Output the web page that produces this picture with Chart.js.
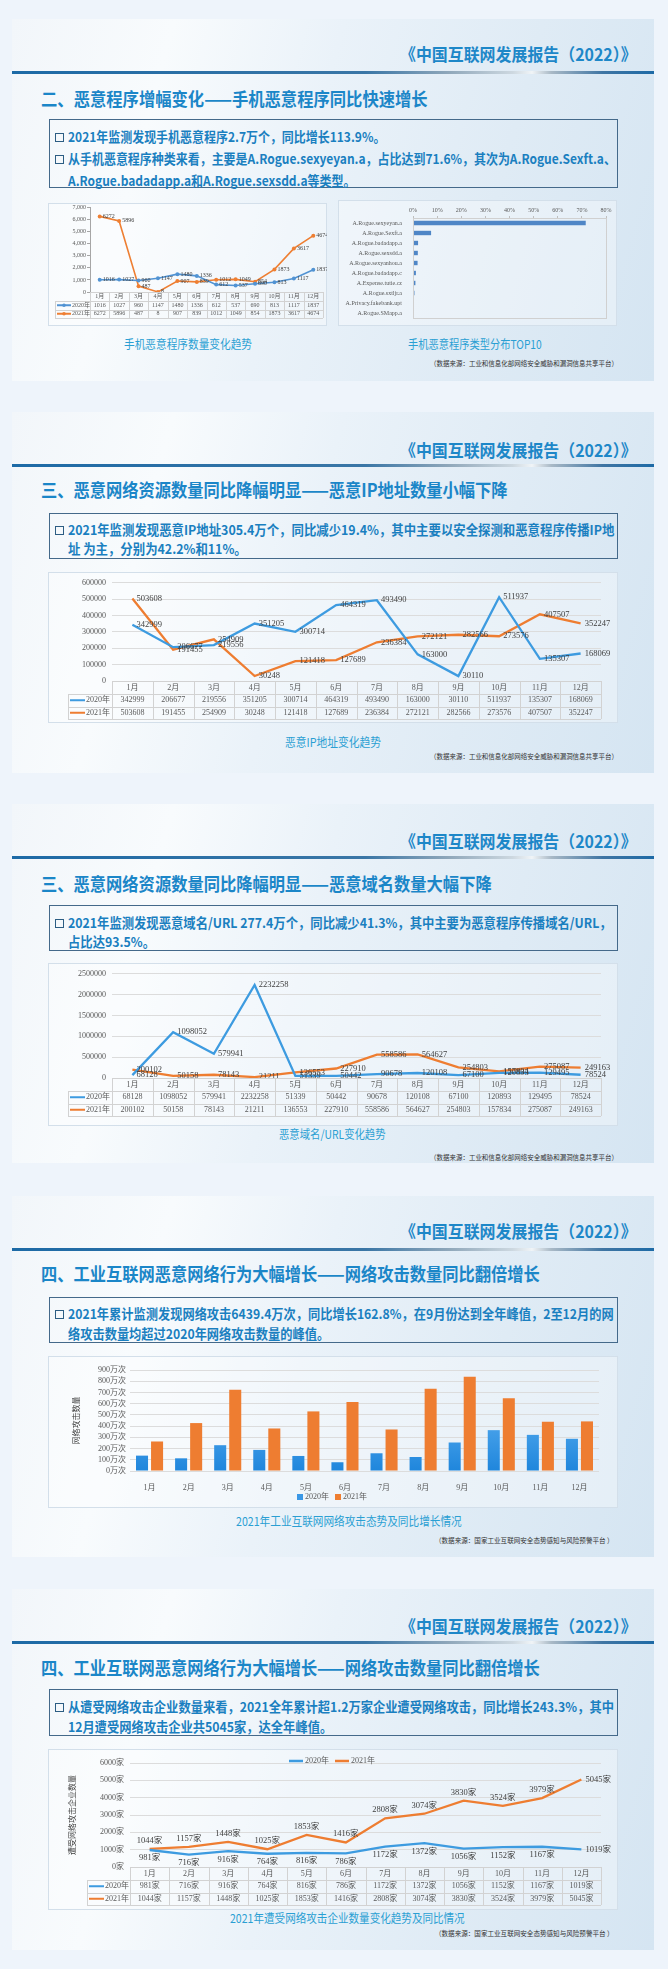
<!DOCTYPE html>
<html>
<head>
<meta charset="utf-8">
<script src="https://cdn.jsdelivr.net/npm/chart.js@4.4.1/dist/chart.umd.min.js"></script>
<style>
  body { margin: 0; width: 668px; height: 1969px; position: relative; overflow: hidden;
         background: #eef4fb; font-family: "Noto Sans CJK SC", sans-serif; }
  .card { position: absolute; left: 12px; width: 642px;
          background: linear-gradient(105deg, #f2f6fa 0%, #f8fbfd 22%, #eaf2f9 45%, #dfebf5 72%, #d5e5f2 100%); }
  .rule { position: absolute; left: 12px; width: 642px; height: 3px;
          background: linear-gradient(90deg, #1d6aa6 0%, #3a76a6 55%, #8fa7ba 68%, #cdd8e0 78%, #f0f4f7 81%, #a9b9c6 84%, #3f75a3 92%, #1d6aa6 100%); }
  .tbox { position: absolute; left: 49px; width: 569px; border: 1.5px solid #44698a; box-sizing: border-box; }
  .cbox { position: absolute; background: rgba(255,255,255,.35); border: 1px solid #d3dfea; box-sizing: border-box; }
  .bul { position: absolute; left: 55px; width: 9px; height: 9px; border: 1.7px solid #2c5d83; box-sizing: border-box; }
  .t { position: absolute; white-space: nowrap; line-height: 1; transform-origin: 0 50%; }
  .hd { font-size: 17px; font-weight: 700; color: #1d87c8; }
  .ti { font-size: 18px; font-weight: 700; color: #1b86c8; }
  .ln { font-size: 13.5px; font-weight: 700; color: #1a7fc0; }
  .cap { font-size: 12px; color: #2a9fd3; }
  .src { font-size: 7px; color: #333; }
  canvas { position: absolute; }
</style>
</head>
<body>
<script>
// ---- data ----
const months = ['1月', '2月', '3月', '4月', '5月', '6月', '7月', '8月', '9月', '10月', '11月', '12月']

const malware2020 = [1016, 1027, 960, 1147, 1480, 1336, 612, 537, 690, 813, 1117, 1837]
const malware2021 = [6272, 5896, 487, 8, 907, 839, 1012, 1049, 854, 1873, 3617, 4674]

const malwareTypes = ['A.Rogue.sexyeyan.a', 'A.Rogue.Sexft.a', 'A.Rogue.badadapp.a', 'A.Rogue.sexsdd.a',
  'A.Rogue.sexyanhou.a', 'A.Rogue.badadapp.c', 'A.Expense.tutie.cz', 'A.Rogue.sxtljr.a',
  'A.Privacy.fakebank.upt', 'A.Rogue.SMapp.a']
const malwareShare = [71.6, 7.5, 2.1, 2.0, 1.9, 1.2, 1.0, 0.6, 0.4, 0.2]

const ip2020 = [342999, 206677, 219556, 351205, 300714, 464319, 493490, 163000, 30110, 511937, 135307, 168069]
const ip2021 = [503608, 191455, 254909, 30248, 121418, 127689, 236384, 272121, 282566, 273576, 407507, 352247]

const url2020 = [68128, 1098052, 579941, 2232258, 51339, 50442, 90678, 120108, 67100, 120893, 129495, 78524]
const url2021 = [200102, 50158, 78143, 21211, 136553, 227910, 558586, 564627, 254803, 157834, 275087, 249163]

const attack2020 = [137, 113, 230, 188, 134, 78, 158, 125, 254, 364, 322, 287]
const attack2021 = [263, 427, 725, 379, 531, 615, 370, 734, 839, 648, 439, 442]

const firms2020 = [981, 716, 916, 764, 816, 786, 1172, 1372, 1056, 1152, 1167, 1019]
const firms2021 = [1044, 1157, 1448, 1025, 1853, 1416, 2808, 3074, 3830, 3524, 3979, 5045]

const seriesNames = ['2020年', '2021年']

// ---- page layout ----
const reportName = '《中国互联网发展报告（2022）》'
const srcA = '（数据来源：工业和信息化部网络安全威胁和漏洞信息共享平台）'
const srcB = '（数据来源：国家工业互联网安全态势感知与风险预警平台 ）'

const panels = [
  { card: [19, 381], header: 53, rule: 72, title: [98, 387, '二、恶意程序增幅变化——手机恶意程序同比快速增长'], box: [119, 188],
    lines: [
      { y: 137, b: 1, t: '2021年监测发现手机恶意程序2.7万个，同比增长113.9%。' },
      { y: 159, b: 1, fit: 548, t: '从手机恶意程序种类来看，主要是A.Rogue.sexyeyan.a，占比达到71.6%，其次为A.Rogue.Sexft.a、' },
      { y: 181, t: 'A.Rogue.badadapp.a和A.Rogue.sexsdd.a等类型。' }
    ],
    charts: [[48, 203, 279, 123], [338, 200, 279, 126]],
    caps: [[188, 344, 128, '手机恶意程序数量变化趋势'], [475, 344, 134, '手机恶意程序类型分布TOP10']],
    src: [618, 363, 188, srcA] },
  { card: [412, 773], header: 449, rule: 465, title: [489, 467, '三、恶意网络资源数量同比降幅明显——恶意IP地址数量小幅下降'], box: [513, 559],
    lines: [
      { y: 530, b: 1, fit: 546, t: '2021年监测发现恶意IP地址305.4万个，同比减少19.4%，其中主要以安全探测和恶意程序传播IP地' },
      { y: 549, t: '址 为主，分别为42.2%和11%。' }
    ],
    charts: [[48, 572, 570, 151]],
    caps: [[333, 742, 96, '恶意IP地址变化趋势']],
    src: [618, 756, 188, srcA] },
  { card: [804, 1163], header: 840, rule: 857, title: [883, 451, '三、恶意网络资源数量同比降幅明显——恶意域名数量大幅下降'], box: [905, 951],
    lines: [
      { y: 923, b: 1, fit: 544, t: '2021年监测发现恶意域名/URL 277.4万个，同比减少41.3%，其中主要为恶意程序传播域名/URL，' },
      { y: 942, t: '占比达93.5%。' }
    ],
    charts: [[48, 963, 570, 163]],
    caps: [[332, 1134, 107, '恶意域名/URL变化趋势']],
    src: [618, 1157, 188, srcA] },
  { card: [1196, 1557], header: 1230, rule: 1249, title: [1273, 499, '四、工业互联网恶意网络行为大幅增长——网络攻击数量同比翻倍增长'], box: [1297, 1343],
    lines: [
      { y: 1314, b: 1, fit: 546, t: '2021年累计监测发现网络攻击6439.4万次，同比增长162.8%，在9月份达到全年峰值，2至12月的网' },
      { y: 1334, t: '络攻击数量均超过2020年网络攻击数量的峰值。' }
    ],
    charts: [[48, 1356, 570, 152]],
    caps: [[349, 1521, 226, '2021年工业互联网网络攻击态势及同比增长情况']],
    src: [614, 1540, 179, srcB] },
  { card: [1589, 1950], header: 1625, rule: 1642, title: [1667, 499, '四、工业互联网恶意网络行为大幅增长——网络攻击数量同比翻倍增长'], box: [1689, 1736],
    lines: [
      { y: 1707, b: 1, fit: 546, t: '从遭受网络攻击企业数量来看，2021全年累计超1.2万家企业遭受网络攻击，同比增长243.3%，其中' },
      { y: 1727, t: '12月遭受网络攻击企业共5045家，达全年峰值。' }
    ],
    charts: [[48, 1749, 570, 161]],
    caps: [[347, 1918, 235, '2021年遭受网络攻击企业数量变化趋势及同比情况']],
    src: [614, 1933, 179, srcB] }
]

const box = (cls, x, y, w, h) => {
  const el = document.createElement('div')
  el.className = cls
  el.style.top = y + 'px'
  if (x !== null) el.style.left = x + 'px'
  if (w !== null) el.style.width = w + 'px'
  el.style.height = h + 'px'
  document.body.appendChild(el)
  return el
}

// text placed by its vertical centre, squeezed to a width (w) or by a given factor (k)
const put = (cls, text, x, y, w, align, k) => {
  const el = document.createElement('div')
  el.className = 't ' + cls
  el.textContent = text
  document.body.appendChild(el)
  const w0 = el.offsetWidth
  const s = k || (w ? w / w0 : 1)
  const W = w0 * s
  let left = x
  if (align === 'center') left = x - W / 2
  if (align === 'right') left = x - W
  el.style.left = left + 'px'
  el.style.top = (y - el.offsetHeight / 2) + 'px'
  el.style.transform = 'scaleX(' + s + ')'
  return s
}

const canvases = []
panels.forEach(p => {
  box('card', null, p.card[0], null, p.card[1] - p.card[0])
  box('rule', null, p.rule - 1.5, null, 3)
  box('tbox', null, p.box[0], null, p.box[1] - p.box[0])
  p.charts.forEach(c => box('cbox', c[0], c[1], c[2], c[3]))
})
panels.forEach(p => {
  put('hd', reportName, 637, p.header, 237, 'right')
  put('ti', p.title[2], 41, p.title[0], p.title[1])
  const fitLine = p.lines.find(l => l.fit)
  const k = put('ln', fitLine.t, 68, fitLine.y, fitLine.fit)
  p.lines.forEach(l => {
    if (l.b) box('bul', null, l.y - 4.5, null, 9)
    if (l !== fitLine) put('ln', l.t, 68, l.y, null, null, k)
  })
  p.caps.forEach(c => put('cap', c[3], c[0], c[1], c[2], 'center'))
  put('src', p.src[3], p.src[0], p.src[1], p.src[2], 'right')
  p.charts.forEach(c => {
    const cv = document.createElement('canvas')
    cv.width = c[2]
    cv.height = c[3]
    cv.style.left = c[0] + 'px'
    cv.style.top = c[1] + 'px'
    document.body.appendChild(cv)
    canvases.push(cv)
  })
})

// ---- chart helpers ----
const serif = "'Liberation Serif', 'Noto Sans CJK SC', serif"
Chart.defaults.font.family = serif
Chart.defaults.color = '#595959'
Chart.defaults.animation = false
Chart.defaults.responsive = false
Chart.defaults.plugins.legend.display = false
Chart.defaults.plugins.tooltip.enabled = false

const BLUE = '#3d9be0'
const ORANGE = '#ee7d31'

// data table under the x axis (months row + one row per dataset)
const tablePlugin = cfg => ({
  id: 'dataTable',
  afterDraw(chart) {
    const ctx = chart.ctx, xs = chart.scales.x, a = chart.chartArea
    const sets = chart.data.datasets
    const n = chart.data.labels.length, cw = (xs.right - xs.left) / n
    const top = a.bottom, r0 = top + cfg.h0, bottom = r0 + cfg.h1 * sets.length
    ctx.save()
    ctx.strokeStyle = '#d2d2d2'
    ctx.lineWidth = 1
    ctx.beginPath()
    for (let k = 0; k <= n; k++) {
      const x = Math.round(xs.left + k * cw) + 0.5
      ctx.moveTo(x, top); ctx.lineTo(x, bottom)
    }
    ctx.moveTo(xs.left, Math.round(top) + 0.5); ctx.lineTo(xs.right, Math.round(top) + 0.5)
    for (let r = 0; r <= sets.length; r++) {
      const y = Math.round(r0 + r * cfg.h1) + 0.5
      ctx.moveTo(cfg.legendLeft, y); ctx.lineTo(xs.right, y)
    }
    ctx.moveTo(cfg.legendLeft + 0.5, r0); ctx.lineTo(cfg.legendLeft + 0.5, bottom)
    ctx.stroke()

    ctx.font = cfg.font + 'px ' + serif
    ctx.fillStyle = '#595959'
    ctx.textAlign = 'center'
    ctx.textBaseline = 'middle'
    chart.data.labels.forEach((l, i) => ctx.fillText(l, xs.getPixelForValue(i), top + cfg.h0 / 2))
    sets.forEach((d, r) => {
      const y = r0 + (r + 0.5) * cfg.h1
      ctx.textAlign = 'center'
      ctx.fillStyle = '#595959'
      d.data.forEach((v, i) => ctx.fillText(v + (cfg.suffix || ''), xs.getPixelForValue(i), y))
      const x0 = cfg.legendLeft + 2
      ctx.strokeStyle = d.borderColor
      ctx.lineWidth = 2
      ctx.beginPath(); ctx.moveTo(x0, y); ctx.lineTo(x0 + cfg.sample, y); ctx.stroke()
      if (cfg.marker) {
        ctx.fillStyle = d.borderColor
        ctx.beginPath(); ctx.arc(x0 + cfg.sample / 2, y, 1.8, 0, Math.PI * 2); ctx.fill()
      }
      ctx.fillStyle = '#595959'
      ctx.textAlign = 'left'
      ctx.fillText(d.label, x0 + cfg.sample + 1, y)
    })
    ctx.restore()
  }
})

// value labels next to the points
const labelPlugin = cfg => ({
  id: 'valueLabels',
  afterDatasetsDraw(chart) {
    const ctx = chart.ctx
    ctx.save()
    ctx.font = cfg.font + 'px ' + serif
    ctx.fillStyle = '#404040'
    chart.data.datasets.forEach((d, di) => {
      const pts = chart.getDatasetMeta(di).data
      pts.forEach((pt, i) => {
        let mode = cfg.modes[di]
        if (cfg.lastRight && i === pts.length - 1) mode = 'right'
        const txt = d.data[i] + (cfg.suffix || '')
        if (mode === 'right') {
          ctx.textAlign = 'left'; ctx.textBaseline = 'middle'
          ctx.fillText(txt, pt.x + cfg.gap, pt.y)
        } else if (mode === 'above') {
          ctx.textAlign = 'center'; ctx.textBaseline = 'bottom'
          ctx.fillText(txt, pt.x, pt.y - cfg.gap)
        } else {
          ctx.textAlign = 'center'; ctx.textBaseline = 'top'
          ctx.fillText(txt, pt.x, pt.y + cfg.gap)
        }
      })
    })
    ctx.restore()
  }
})

// small legend drawn at a given centre
const legendPlugin = cfg => ({
  id: 'miniLegend',
  afterDraw(chart) {
    const ctx = chart.ctx
    ctx.save()
    ctx.font = cfg.font + 'px ' + serif
    ctx.textBaseline = 'middle'
    const items = chart.data.datasets.map((d, i) => ({ label: d.label, color: cfg.colors[i], w: ctx.measureText(d.label).width }))
    const total = items.reduce((s, it) => s + cfg.bw + 2 + it.w, 0) + cfg.space * (items.length - 1)
    let x = cfg.cx - total / 2
    items.forEach(it => {
      ctx.fillStyle = it.color
      ctx.fillRect(x, cfg.cy - cfg.bh / 2, cfg.bw, cfg.bh)
      ctx.fillStyle = '#595959'
      ctx.fillText(it.label, x + cfg.bw + 2, cfg.cy)
      x += cfg.bw + 2 + it.w + cfg.space
    })
    ctx.restore()
  }
})

const framePlugin = {
  id: 'frame',
  afterDraw(chart) {
    const a = chart.chartArea, ctx = chart.ctx
    ctx.save()
    ctx.strokeStyle = '#d0d0d0'
    ctx.lineWidth = 1
    ctx.strokeRect(Math.round(a.left) + 0.5, Math.round(a.top) + 0.5, Math.round(a.right - a.left), Math.round(a.bottom - a.top))
    ctx.restore()
  }
}

const lineSet = (label, data, color, width, radius) => ({
  label, data, borderColor: color, backgroundColor: color, borderWidth: width,
  pointRadius: radius, pointBackgroundColor: color, pointBorderWidth: 0, tension: 0
})

// ---- chart 1: mobile malware by month ----
new Chart(canvases[0], {
  type: 'line',
  data: { labels: months, datasets: [lineSet(seriesNames[0], malware2020, '#5193d3', 1.6, 2), lineSet(seriesNames[1], malware2021, '#ee7f33', 1.6, 2)] },
  options: {
    layout: { padding: { top: 4, right: 2, bottom: 8, left: 0 } },
    scales: {
      x: { offset: true, grid: { display: false }, ticks: { display: false }, border: { display: false }, afterFit: s => { s.height = 26 } },
      y: { min: 0, max: 7000, ticks: { stepSize: 1000, font: { size: 6 }, padding: 1, autoSkip: false },
           grid: { drawOnChartArea: false, tickLength: 3, color: '#a6a6a6' }, border: { color: '#a6a6a6' },
           afterFit: s => { s.width = 42 } }
    }
  },
  plugins: [labelPlugin({ font: 6, gap: 3, modes: ['right', 'right'] }),
            tablePlugin({ h0: 9, h1: 8.5, font: 6, legendLeft: 7, sample: 14, marker: true })]
})

// ---- chart 2: malware type share ----
new Chart(canvases[1], {
  type: 'bar',
  data: { labels: malwareTypes, datasets: [{ data: malwareShare, backgroundColor: '#4f86c6', barPercentage: 0.55, categoryPercentage: 0.8 }] },
  options: {
    indexAxis: 'y',
    layout: { padding: { top: 4, right: 11, bottom: 8, left: 0 } },
    scales: {
      x: { position: 'top', min: 0, max: 80, ticks: { stepSize: 10, callback: v => v + '%', font: { size: 6 }, padding: 2, autoSkip: false },
           grid: { drawOnChartArea: false, tickLength: 2, color: '#bfbfbf' }, border: { color: '#bfbfbf' },
           afterFit: s => { s.height = 14 } },
      y: { ticks: { font: { size: 6 }, padding: 3, autoSkip: false }, grid: { display: false }, border: { color: '#bfbfbf' },
           afterFit: s => { s.width = 75 } }
    }
  },
  plugins: [framePlugin]
})

// ---- line charts with a data table ----
const tableLineChart = (cv, d20, d21, yMax, yStep, cfg) => new Chart(cv, {
  type: 'line',
  data: { labels: months, datasets: [lineSet(seriesNames[0], d20, BLUE, 2.3, 0), lineSet(seriesNames[1], d21, ORANGE, 2.3, 0)] },
  options: {
    layout: { padding: cfg.pad },
    scales: {
      x: { offset: true, grid: { display: false }, ticks: { display: false }, border: { display: false }, afterFit: s => { s.height = cfg.xh } },
      y: { min: 0, max: yMax, ticks: { stepSize: yStep, font: { size: 8 }, padding: 6, autoSkip: false, callback: cfg.tick || (v => v) },
           grid: { color: '#dcdcdc', drawTicks: false }, border: { display: false },
           title: cfg.title ? { display: true, text: cfg.title, font: { size: 8 }, padding: 4, color: '#404040' } : { display: false },
           afterFit: s => { s.width = cfg.yw } }
    }
  },
  plugins: [labelPlugin(cfg.labels), tablePlugin(cfg.table)].concat(cfg.extra || [])
})

// ---- chart 3: malicious IP ----
tableLineChart(canvases[2], ip2020, ip2021, 600000, 100000, {
  pad: { top: 6, right: 17, bottom: 4, left: 0 }, xh: 38, yw: 64,
  labels: { font: 8.5, gap: 4, modes: ['right', 'right'] },
  table: { h0: 13, h1: 12.5, font: 8, legendLeft: 20, sample: 15 }
})

// ---- chart 4: malicious domains / URL ----
tableLineChart(canvases[3], url2020, url2021, 2500000, 500000, {
  pad: { top: 9, right: 17, bottom: 10, left: 0 }, xh: 38, yw: 64,
  labels: { font: 8.5, gap: 4, modes: ['right', 'right'] },
  table: { h0: 13, h1: 12.5, font: 8, legendLeft: 20, sample: 15 }
})

// ---- chart 5: industrial internet attacks ----
new Chart(canvases[4], {
  type: 'bar',
  data: { labels: months, datasets: [
    { label: seriesNames[0], data: attack2020, barPercentage: 0.8, categoryPercentage: 0.77,
      backgroundColor: c => {
        const a = c.chart.chartArea
        if (!a) return '#3a98e6'
        const g = c.chart.ctx.createLinearGradient(0, a.top, 0, a.bottom)
        g.addColorStop(0, '#78c2fa'); g.addColorStop(1, '#1f86dc')
        return g
      } },
    { label: seriesNames[1], data: attack2021, backgroundColor: '#ee7d31', barPercentage: 0.8, categoryPercentage: 0.77 }
  ] },
  options: {
    layout: { padding: { top: 14, right: 19, bottom: 17, left: 20 } },
    scales: {
      x: { grid: { display: false }, ticks: { font: { size: 8 }, padding: 4 }, border: { display: false }, afterFit: s => { s.height = 20 } },
      y: { min: 0, max: 900, ticks: { stepSize: 100, font: { size: 8 }, padding: 4, autoSkip: false, callback: v => v + '万次' },
           grid: { color: '#dcdcdc', drawTicks: false }, border: { display: false },
           title: { display: true, text: '网络攻击数量', font: { size: 8 }, padding: 4, color: '#404040' },
           afterFit: s => { s.width = 62 } }
    }
  },
  plugins: [legendPlugin({ cx: 284, cy: 141, font: 8, bw: 6, bh: 6, space: 6, colors: ['#3a98e6', '#ee7d31'] })]
})

// ---- chart 6: attacked enterprises ----
tableLineChart(canvases[5], firms2020, firms2021, 6000, 1000, {
  pad: { top: 14, right: 17, bottom: 5, left: 16 }, xh: 38, yw: 66,
  tick: v => v + '家', title: '遭受网络攻击企业数量',
  labels: { font: 8.5, gap: 4, modes: ['below', 'above'], suffix: '家', lastRight: true },
  table: { h0: 13, h1: 12.5, font: 8, legendLeft: 39, sample: 15, suffix: '家' },
  extra: [legendPlugin({ cx: 284, cy: 12, font: 8, bw: 14, bh: 2.5, space: 6, colors: [BLUE, ORANGE] })]
})
</script>
</body>
</html>
